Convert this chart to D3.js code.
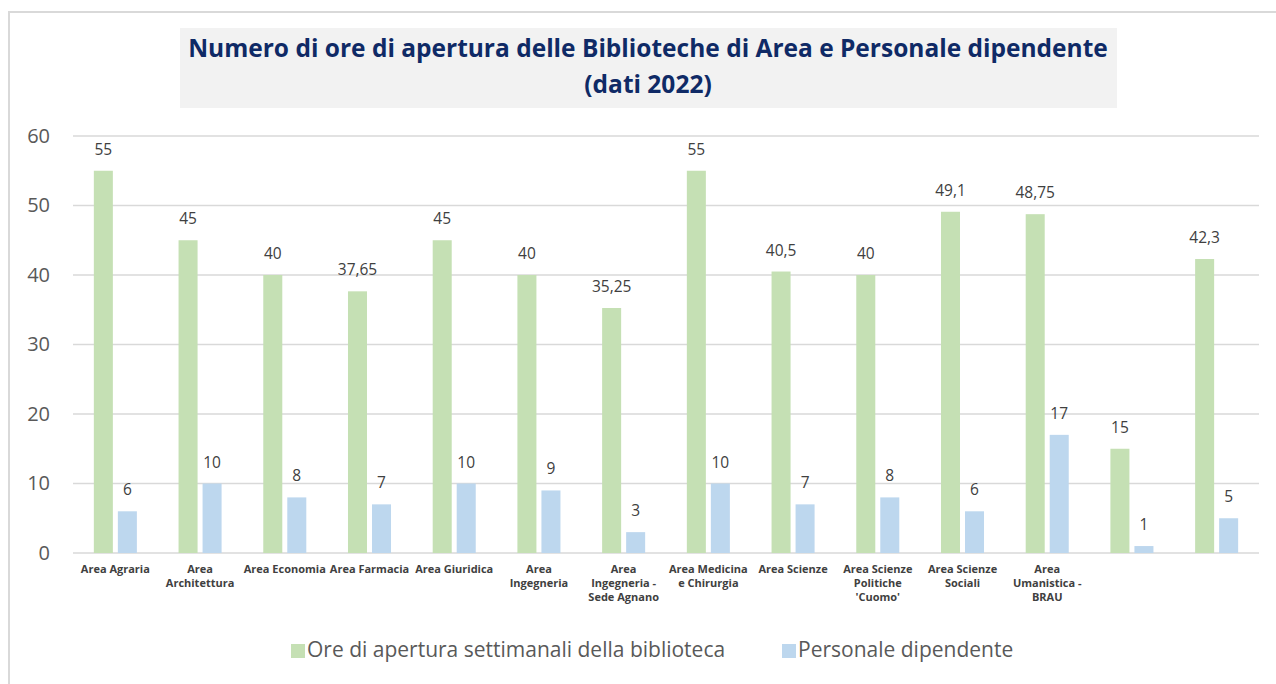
<!DOCTYPE html>
<html>
<head>
<meta charset="utf-8">
<script src="https://cdn.jsdelivr.net/npm/d3@7"></script>
<style>
  body { margin: 0; background: #fff; }
  svg { display: block; }
</style>
</head>
<body>
<svg id="chart" width="1276" height="684"></svg>
<script>
// categories (line breaks as wrapped in the original)
const categories = [
  'Area Agraria', 'Area\nArchitettura', 'Area Economia', 'Area Farmacia', 'Area Giuridica',
  'Area\nIngegneria', 'Area\nIngegneria -\nSede Agnano', 'Area Medicina\ne Chirurgia',
  'Area Scienze', 'Area Scienze\nPolitiche\n\'Cuomo\'', 'Area Scienze\nSociali',
  'Area\nUmanistica -\nBRAU', '', ' '
];
const oreApertura = [55, 45, 40, 37.65, 45, 40, 35.25, 55, 40.5, 40, 49.1, 48.75, 15, 42.3];
const personale = [6, 10, 8, 7, 10, 9, 3, 10, 7, 8, 6, 17, 1, 5];
const yTicks = [0, 10, 20, 30, 40, 50, 60];
const seriesNames = ['Ore di apertura settimanali della biblioteca', 'Personale dipendente'];
const colors = ['#c5e0b4', '#bdd7ee'];
const titleLines = ['Numero di ore di apertura delle Biblioteche di Area e Personale dipendente', '(dati 2022)'];

const svg = d3.select('#chart');
const margin = { top: 136, right: 17, bottom: 131, left: 73 };
const width = 1276, height = 684;

const it = d3.formatLocale({ decimal: ',', thousands: '.', grouping: [3], currency: ['', '€'] });
const fmt = (d) => (Number.isInteger(d) ? String(d) : it.format(',')(d));

// outer border (only top and left edges are in view)
svg.append('path')
  .attr('d', `M9,${height} V12 H${width}`)
  .attr('fill', 'none')
  .attr('stroke', '#d9d9d9')
  .attr('stroke-width', 2);

// title box
svg.append('rect')
  .attr('x', 180).attr('y', 28).attr('width', 937).attr('height', 80)
  .attr('fill', '#f2f2f2');
svg.append('text')
  .attr('x', 648).attr('y', 57)
  .attr('text-anchor', 'middle')
  .style('font', 'bold 24.5px "Open Sans", sans-serif')
  .attr('fill', '#0f2a66')
  .selectAll('tspan')
  .data(titleLines)
  .join('tspan')
  .attr('x', 648)
  .attr('dy', (d, i) => (i === 0 ? 0 : 36))
  .text((d) => d);

const x0 = d3.scaleBand()
  .domain(d3.range(categories.length))
  .range([margin.left, width - margin.right])
  .paddingInner(0.492)
  .paddingOuter(0.246);

const x1 = d3.scaleBand()
  .domain([0, 1])
  .range([0, x0.bandwidth()])
  .paddingInner(0.208);

const y = d3.scaleLinear()
  .domain([0, 60])
  .range([height - margin.bottom, margin.top]);

// gridlines
svg.append('g')
  .selectAll('line')
  .data(yTicks)
  .join('line')
  .attr('x1', margin.left).attr('x2', width - margin.right)
  .attr('y1', (d) => y(d)).attr('y2', (d) => y(d))
  .attr('stroke', '#d9d9d9')
  .attr('stroke-width', 1.5);

// y axis labels
const yAxis = svg.append('g')
  .attr('transform', `translate(${margin.left - 23},0)`)
  .call(d3.axisLeft(y).tickValues(yTicks).tickSize(0).tickPadding(0));
yAxis.select('.domain').remove();
yAxis.selectAll('text')
  .style('font', '20px "Open Sans", sans-serif')
  .attr('fill', '#595959');

// bars
const series = [oreApertura, personale];
const groups = svg.append('g')
  .selectAll('g')
  .data(categories.map((c, i) => i))
  .join('g')
  .attr('transform', (i) => `translate(${x0(i)},0)`);

groups.selectAll('rect')
  .data((i) => series.map((s, k) => ({ k, v: s[i] })))
  .join('rect')
  .attr('x', (d) => x1(d.k))
  .attr('width', x1.bandwidth())
  .attr('y', (d) => y(d.v))
  .attr('height', (d) => y(0) - y(d.v))
  .attr('fill', (d) => colors[d.k]);

groups.selectAll('text.val')
  .data((i) => series.map((s, k) => ({ k, v: s[i] })))
  .join('text')
  .attr('class', 'val')
  .attr('x', (d) => x1(d.k) + x1.bandwidth() / 2)
  .attr('y', (d) => y(d.v) - 16)
  .attr('text-anchor', 'middle')
  .style('font', '15.5px "Open Sans", sans-serif')
  .attr('fill', '#404040')
  .text((d) => fmt(d.v));

// x axis labels
const xLabels = svg.append('g')
  .selectAll('text')
  .data(categories.map((c, i) => ({ c, i })))
  .join('text')
  .attr('x', (d) => x0(d.i) + x0.bandwidth() / 2)
  .attr('y', height - margin.bottom + 20)
  .attr('text-anchor', 'middle')
  .style('font', 'bold 11px "Open Sans", sans-serif')
  .attr('fill', '#404040');
xLabels.selectAll('tspan')
  .data((d) => d.c.split('\n').map((t) => ({ t, x: x0(d.i) + x0.bandwidth() / 2 })))
  .join('tspan')
  .attr('x', (d) => d.x)
  .attr('dy', (d, i) => (i === 0 ? 0 : 14))
  .text((d) => d.t);

// legend
const legendX = [291, 782];
const legend = svg.append('g')
  .selectAll('g')
  .data(seriesNames)
  .join('g')
  .attr('transform', (d, i) => `translate(${legendX[i]},644)`);
legend.append('rect')
  .attr('width', 14).attr('height', 14)
  .attr('fill', (d, i) => colors[i]);
legend.append('text')
  .attr('x', 16).attr('y', 13)
  .style('font', '21px "Open Sans", sans-serif')
  .attr('fill', '#595959')
  .text((d) => d);
</script>
</body>
</html>
